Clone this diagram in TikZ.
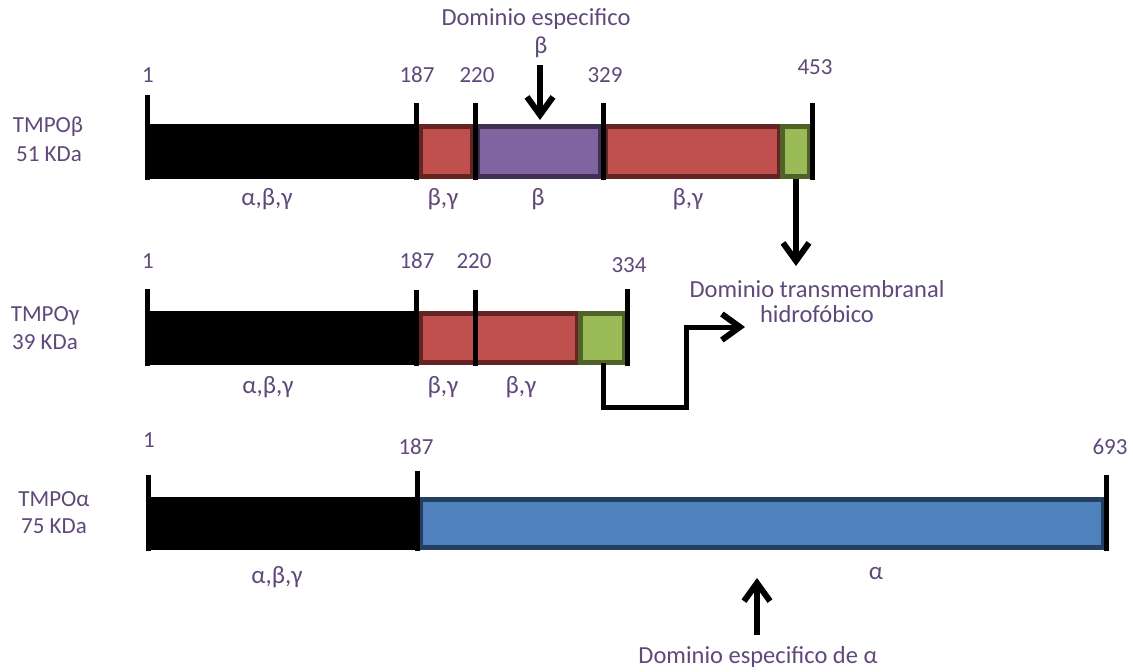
\documentclass[tikz,border=0pt]{standalone}
\usepackage{fontspec}
\setmainfont{Carlito}
\usetikzlibrary{arrows.meta}
\definecolor{txt}{RGB}{95,73,122}
\definecolor{redF}{RGB}{192,80,77}
\definecolor{redB}{RGB}{99,37,35}
\definecolor{purF}{RGB}{128,100,162}
\definecolor{purB}{RGB}{63,49,81}
\definecolor{grnF}{RGB}{155,187,89}
\definecolor{grnB}{RGB}{79,98,40}
\definecolor{bluF}{RGB}{79,129,189}
\definecolor{bluB}{RGB}{36,63,96}
\newcommand\segbox[6]{%
  \fill[#1] (#3,#5) rectangle (#4,#6);
  \draw[#2,line width=5pt] ({#3+2.5},{#5+2.5}) rectangle ({#4-2.5},{#6-2.5});}
\tikzset{
  lbl/.style={text=txt, font=\fontsize{23}{26}\selectfont, inner sep=0pt},
  numlbl/.style={lbl},
  namelbl/.style={lbl, font=\fontsize{23}{27}\selectfont},
  domlbl/.style={lbl, font=\fontsize{24.5}{27}\selectfont},
  grklbl/.style={lbl, font=\fontsize{25}{27}\selectfont},
  tickline/.style={draw=black, line width=5pt},
  callout/.style={draw=black, line width=6pt, line join=miter,
    -{Straight Barb[length=18pt,width=26pt,line width=6pt]}},
  stepcallout/.style={callout, line width=5pt},
}
\begin{document}
\begin{tikzpicture}[x=1pt,y=-1pt]
\useasboundingbox (0,0) rectangle (1133,672);

% ---------------- Row 1 : TMPO beta
\fill[black] (147,124) rectangle (418,179);
\segbox{redF}{redB}{418}{475}{124}{179}
\segbox{purF}{purB}{475}{603}{124}{179}
\segbox{redF}{redB}{603}{782}{124}{179}
\segbox{grnF}{grnB}{780}{812}{124}{179}
\draw[tickline] (147,95) -- (147,180);
\draw[tickline] (416,103) -- (416,180);
\draw[tickline] (475,103) -- (475,180);
\draw[tickline] (603,103) -- (603,180);
\draw[tickline] (812,103) -- (812,180);

\node[numlbl] (n1a) at (148,75) {1};
\node[numlbl] (n1b) at (417,75) {187};
\node[numlbl] (n1c) at (477,75) {220};
\node[numlbl] (n1d) at (605,75) {329};
\node[numlbl] (n1e) at (815,67) {453};
\node[domlbl] (domb) at (536,19) {Dominio especifico};
\node[domlbl] (domb2) at (541,47) {β};
\node[namelbl] (tb) at (48,127) {TMPOβ};
\node[namelbl] (tb2) at (49,154) {51 KDa};
\node[grklbl] (u1a) at (267,199) {α,β,γ};
\node[grklbl] (u1b) at (443,199) {β,γ};
\node[grklbl] (u1c) at (538,199) {β};
\node[grklbl] (u1d) at (688,199) {β,γ};

\coordinate (b1s) at (540,65);
\coordinate (b1e) at (540,120);
\draw[callout] (b1s) -- (b1e);

% ---------------- Row 2 : TMPO gamma
\fill[black] (147,311) rectangle (418,365);
\segbox{redF}{redB}{418}{580}{311}{365}
\segbox{grnF}{grnB}{578}{627}{311}{365}
\draw[tickline] (147,289) -- (147,366);
\draw[tickline] (416,290) -- (416,366);
\draw[tickline] (475,290) -- (475,366);
\draw[tickline] (627,289) -- (627,366);

\node[numlbl] (n2a) at (148,261) {1};
\node[numlbl] (n2b) at (417,261) {187};
\node[numlbl] (n2c) at (474,261) {220};
\node[numlbl] (n2d) at (629,265) {334};
\node[namelbl] (tg) at (45,316) {TMPOγ};
\node[namelbl] (tg2) at (45,342) {39 KDa};
\node[grklbl] (u2a) at (268,387) {α,β,γ};
\node[grklbl] (u2b) at (443,387) {β,γ};
\node[grklbl] (u2c) at (521,387) {β,γ};

\node[domlbl] (tm) at (817,289) {Dominio transmembranal};
\node[domlbl] (tm2) at (817,314) {hidrofóbico};

\coordinate (g1) at (796,179);
\coordinate (g1e) at (796,266);
\draw[callout] (g1) -- (g1e);
\coordinate (g2) at (603,363);
\coordinate (g2e) at (745,327);
\draw[stepcallout] (g2) |- (686,407) |- (g2e);

% ---------------- Row 3 : TMPO alpha
\fill[black] (147,497) rectangle (418,550);
\segbox{bluF}{bluB}{418}{1106}{497}{550}
\draw[tickline] (148,475) -- (148,551);
\draw[tickline] (417,471) -- (417,551);
\draw[tickline] (1106,475) -- (1106,551);

\node[numlbl] (n3a) at (149,440) {1};
\node[numlbl] (n3b) at (416,447) {187};
\node[numlbl] (n3c) at (1110,447) {693};
\node[namelbl] (ta) at (54,499) {TMPOα};
\node[namelbl] (ta2) at (54,526) {75 KDa};
\node[grklbl] (u3a) at (277,577) {α,β,γ};
\node[grklbl] (u3b) at (876,574) {α};
\node[domlbl] (doma) at (758,657) {Dominio especifico de α};

\coordinate (a1s) at (757,635);
\coordinate (a1e) at (757,578);
\draw[callout] (a1s) -- (a1e);
\end{tikzpicture}
\end{document}
